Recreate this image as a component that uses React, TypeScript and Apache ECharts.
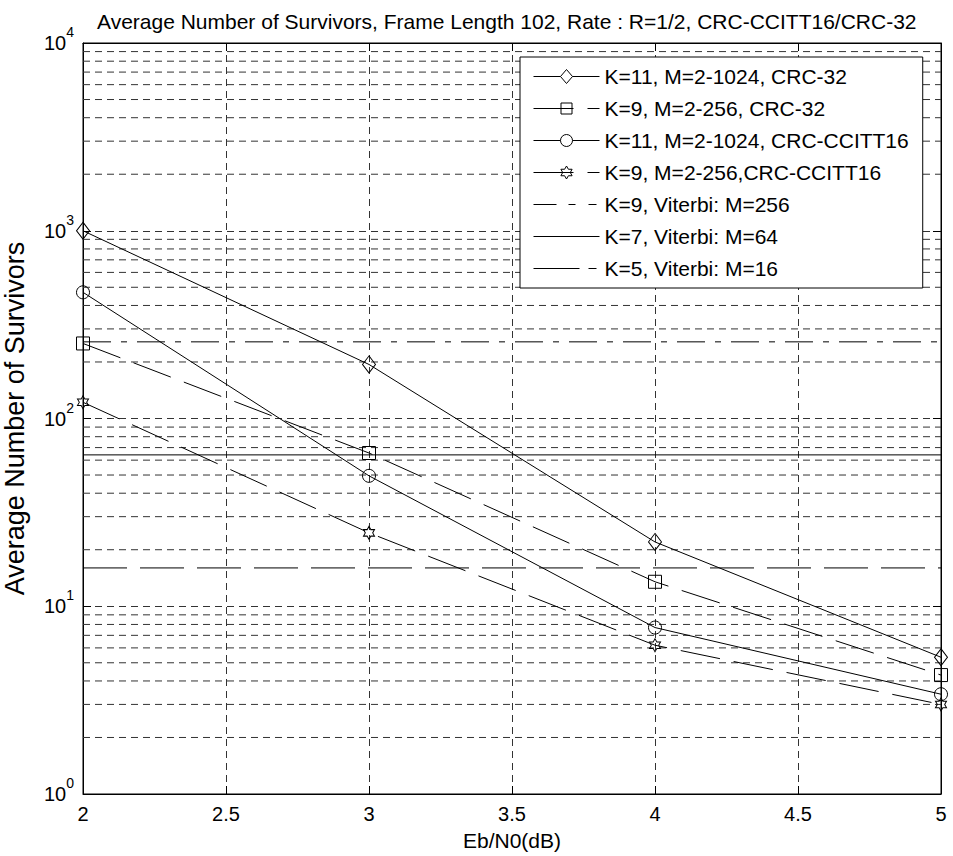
import React, { useEffect, useRef } from 'react';
import * as echarts from 'echarts';

// Eb/N0 (dB) sample points
const ebn0 = [2, 3, 4, 5];

// Average number of survivors
const k11Crc32 = [1000, 194, 22, 5.35];
const k9Crc32 = [251, 65.5, 13.5, 4.3];
const k11Ccitt16 = [470, 49.5, 7.7, 3.4];
const k9Ccitt16 = [122, 24.6, 6.2, 3.0];

// Viterbi reference levels (number of states M)
const viterbiK9 = 256;
const viterbiK7 = 64;
const viterbiK5 = 16;

// Log-axis minor grid positions
const decades = [1, 10, 100, 1000];
const minorSteps = [2, 3, 4, 5, 6, 7, 8, 9];

const seriesNames = [
  'K=11, M=2-1024, CRC-32',
  'K=9, M=2-256, CRC-32',
  'K=11, M=2-1024, CRC-CCITT16',
  'K=9, M=2-256,CRC-CCITT16',
  'K=9, Viterbi: M=256',
  'K=7, Viterbi: M=64',
  'K=5, Viterbi: M=16',
];

const FONT = '"Liberation Sans", Arial, Helvetica, sans-serif';
const HEXAGRAM =
  'path://M50 0L64.4 25L93.3 25L78.9 50L93.3 75L64.4 75L50 100L35.6 75L6.7 75L21.1 50L6.7 25L35.6 25Z';

// Legend sample glyphs (66 x 15 box: line sample + marker)
const BOX = 'M0 0M66 15';
const ICON_DIAMOND = `path://${BOX}M0 7.5L27 7.5M39 7.5L66 7.5M33 0.5L39 7.5L33 14.5L27 7.5Z`;
const ICON_SQUARE = `path://${BOX}M0 7.5L40 7.5M54 7.5L66 7.5M27.5 2L38.5 2L38.5 13L27.5 13Z`;
const ICON_CIRCLE = `path://${BOX}M0 7.5L27 7.5M39 7.5L66 7.5M39 7.5A6 6 0 1 1 27 7.5A6 6 0 1 1 39 7.5Z`;
const ICON_HEXAGRAM = `path://${BOX}M0 7.5L40 7.5M54 7.5L66 7.5M33 1L34.9 4.25L38.6 4.25L36.8 7.5L38.6 10.75L34.9 10.75L33 14L31.1 10.75L27.4 10.75L29.2 7.5L27.4 4.25L31.1 4.25Z`;
const ICON_DASHDOT = `path://${BOX}M0 7.5L23 7.5M35 7.5L42 7.5M55 7.5L63 7.5`;
const ICON_SOLID = `path://${BOX}M0 7.5L66 7.5`;
const ICON_LONGDASH = `path://${BOX}M0 7.5L46 7.5M55 7.5L63 7.5`;
const legendIcons = [ICON_DIAMOND, ICON_SQUARE, ICON_CIRCLE, ICON_HEXAGRAM, ICON_DASHDOT, ICON_SOLID, ICON_LONGDASH];

export default function App() {
  const ref = useRef<HTMLDivElement>(null);

  useEffect(() => {
    document.body.style.margin = '0';
    const chart = echarts.init(ref.current as HTMLDivElement, null, { renderer: 'svg' });

    const pts = (ys: number[]) => ebn0.map((x, i) => [x, ys[i]]);
    const flat = (v: number) => [
      [ebn0[0], v],
      [ebn0[ebn0.length - 1], v],
    ];
    const gridDash = { type: [7, 5] as any, color: '#333', width: 1 };
    const minorVals = decades.flatMap((d) => minorSteps.map((m) => m * d));
    const hollow = { color: 'rgba(255,255,255,0)', borderColor: '#000', borderWidth: 1 };

    const measured = (name: string, ys: number[], symbol: string, size: any, dash: any) => ({
      name,
      type: 'line',
      data: pts(ys),
      symbol,
      symbolSize: size,
      showSymbol: true,
      lineStyle: { color: '#000', width: 1, type: dash },
      itemStyle: hollow,
      z: 3,
      emphasis: { disabled: true },
    });
    const level = (name: string, v: number, dash: any) => ({
      name,
      type: 'line',
      data: flat(v),
      symbol: 'none',
      showSymbol: false,
      lineStyle: { color: '#000', width: 1, type: dash },
      itemStyle: hollow,
      z: 3,
      emphasis: { disabled: true },
    });
    const minorGrid = minorVals.map((v) => ({
      name: `grid-${v}`,
      type: 'line',
      data: flat(v),
      symbol: 'none',
      showSymbol: false,
      silent: true,
      lineStyle: gridDash,
      z: 1,
      emphasis: { disabled: true },
      tooltip: { show: false },
    }));

    const option: any = {
      animation: false,
      backgroundColor: '#fff',
      title: {
        text: 'Average Number of Survivors, Frame Length 102, Rate : R=1/2, CRC-CCITT16/CRC-32',
        left: 97,
        top: 11,
        padding: 0,
        textStyle: { fontFamily: FONT, fontSize: 21, fontWeight: 'normal', color: '#000' },
      },
      grid: {
        left: 83,
        right: 12,
        top: 43,
        bottom: 62,
        outerBoundsMode: 'none',
        show: true,
        borderColor: '#000',
        borderWidth: 1,
        backgroundColor: 'transparent',
      },
      legend: {
        orient: 'vertical',
        left: 520,
        top: 57,
        padding: [9, 14, 9, 13],
        backgroundColor: '#fff',
        borderColor: '#000',
        borderWidth: 1,
        itemWidth: 66,
        itemHeight: 15,
        itemGap: 11,
        selectedMode: false,
        itemStyle: { color: 'rgba(255,255,255,0)', borderColor: '#000', borderWidth: 1 },
        textStyle: { fontFamily: FONT, fontSize: 21, color: '#000', lineHeight: 20 },
        data: seriesNames.map((name, i) => ({ name, icon: legendIcons[i] })),
      },
      xAxis: [
        {
          type: 'value',
          min: 2,
          max: 5,
          interval: 0.5,
          name: 'Eb/N0(dB)',
          nameLocation: 'middle',
          nameGap: 36,
          nameTextStyle: { fontFamily: FONT, fontSize: 21, color: '#000' },
          axisLine: { show: true, lineStyle: { color: '#000', width: 1 } },
          axisTick: { show: true, inside: true, length: 8, lineStyle: { color: '#000' } },
          axisLabel: { fontFamily: FONT, fontSize: 20, color: '#000', margin: 10 },
          splitLine: { show: true, lineStyle: gridDash },
        },
        {
          type: 'value',
          position: 'top',
          min: 2,
          max: 5,
          interval: 0.5,
          axisLine: { show: true, lineStyle: { color: '#000', width: 1 } },
          axisTick: { show: true, inside: true, length: 8, lineStyle: { color: '#000' } },
          axisLabel: { show: false },
          splitLine: { show: false },
        },
      ],
      yAxis: [
        {
          type: 'log',
          logBase: 10,
          min: 1,
          max: 10000,
          name: 'Average Number of Survivors',
          nameLocation: 'middle',
          nameRotate: 90,
          nameGap: 55,
          nameTextStyle: { fontFamily: FONT, fontSize: 27, color: '#000' },
          axisLine: { show: true, lineStyle: { color: '#000', width: 1 } },
          axisTick: { show: true, inside: true, length: 8, lineStyle: { color: '#000' } },
          axisLabel: {
            margin: 9,
            formatter: (v: number) => `{b|10}{s|${Math.round(Math.log10(v))}}`,
            rich: {
              b: { fontFamily: FONT, fontSize: 20, color: '#000' },
              s: { fontFamily: FONT, fontSize: 14, color: '#000', padding: [0, 0, 22, 0] },
            },
          },
          splitLine: { show: true, lineStyle: gridDash },
        },
        {
          type: 'log',
          logBase: 10,
          min: 1,
          max: 10000,
          position: 'right',
          axisLine: { show: true, lineStyle: { color: '#000', width: 1 } },
          axisTick: { show: true, inside: true, length: 8, lineStyle: { color: '#000' } },
          axisLabel: { show: false },
          splitLine: { show: false },
        },
      ],
      series: [
        ...minorGrid,
        measured(seriesNames[0], k11Crc32, 'diamond', [13, 17], 'solid'),
        measured(seriesNames[1], k9Crc32, 'rect', 13, [40, 14]),
        measured(seriesNames[2], k11Ccitt16, 'circle', 13, 'solid'),
        measured(seriesNames[3], k9Ccitt16, HEXAGRAM, [11, 13], [40, 14]),
        level(seriesNames[4], viterbiK9, [28, 10, 6, 10]),
        level(seriesNames[5], viterbiK7, 'solid'),
        level(seriesNames[6], viterbiK5, [44, 13]),
      ],
    };

    chart.setOption(option);
    return () => chart.dispose();
  }, []);

  return <div ref={ref} style={{ width: 953, height: 856 }} />;
}
